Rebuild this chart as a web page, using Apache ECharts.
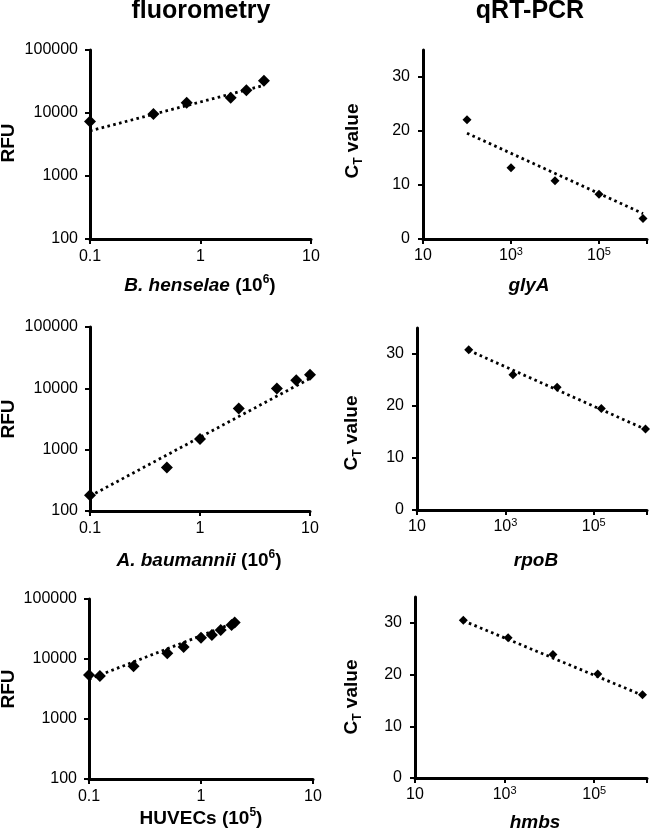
<!DOCTYPE html>
<html><head><meta charset="utf-8">
<script src="https://cdn.jsdelivr.net/npm/echarts@6/dist/echarts.min.js"></script>
<style>html,body{margin:0;padding:0;background:#fff}#c{width:650px;height:838px}</style>
</head><body><div id="c"></div>
<script>
// ---------- data ----------
const henselaeX = [0.1, 0.375, 0.75, 1.875, 2.6, 3.75];
const henselaeY = [7300, 9600, 14500, 17500, 23000, 32500];
const henselaeTrendX = [0.1, 3.75];
const henselaeTrendY = [5200, 27500];

const baumanniiX = [0.1, 0.5, 1, 2.25, 5, 7.5, 10];
const baumanniiY = [180, 510, 1490, 4700, 9900, 13500, 16700];
const baumanniiTrendX = [0.1, 10];
const baumanniiTrendY = [175, 14500];

const huvecX = [0.1, 0.125, 0.25, 0.5, 0.7, 1, 1.25, 1.5, 1.875, 2];
const huvecY = [5400, 5200, 7600, 12500, 15800, 22500, 25000, 30500, 37000, 40500];
const huvecTrendX = [0.1, 2];
const huvecTrendY = [4600, 40500];

const glyAX = [100, 1000, 10000, 100000, 1000000];
const glyAY = [22.1, 13.2, 10.8, 8.3, 3.8];
const glyATrendX = [100, 1000000];
const glyATrendY = [19.6, 4.7];

const rpoBX = [148, 1480, 14800, 148000, 1480000];
const rpoBY = [30.8, 26.0, 23.6, 19.5, 15.6];
const rpoBTrendX = [148, 1480000];
const rpoBTrendY = [30.7, 15.5];

const hmbsX = [120, 1200, 12000, 120000, 1200000];
const hmbsY = [30.5, 27.1, 23.9, 20.1, 16.1];
const hmbsTrendX = [120, 1200000];
const hmbsTrendY = [30.4, 16.0];

// tick labels
const ctYTicks = [0, 10, 20, 30];
const copyTickValues = [10, 1000, 100000];
const copyTickBase = ['10', '10', '10'];
const copyTickExp = ['', '3', '5'];

// ---------- chart ----------
const FF = '"Liberation Sans", Arial, sans-serif';
const pairs = (xs, ys) => xs.map((x, i) => [x, ys[i]]);

const panels = [
  {grid: {left: 90, top: 50, width: 221, height: 189}, kind: 'fluo', x: henselaeX, y: henselaeY, tx: henselaeTrendX, ty: henselaeTrendY},
  {grid: {left: 423, top: 50, width: 224, height: 189}, kind: 'ct', xmax: 1233000, x: glyAX, y: glyAY, tx: glyATrendX, ty: glyATrendY},
  {grid: {left: 90, top: 327, width: 220, height: 184}, kind: 'fluo', x: baumanniiX, y: baumanniiY, tx: baumanniiTrendX, ty: baumanniiTrendY},
  {grid: {left: 417, top: 328, width: 230, height: 182}, kind: 'ct', xmax: 1600000, x: rpoBX, y: rpoBY, tx: rpoBTrendX, ty: rpoBTrendY},
  {grid: {left: 89, top: 599, width: 224, height: 180}, kind: 'fluo', x: huvecX, y: huvecY, tx: huvecTrendX, ty: huvecTrendY},
  {grid: {left: 415, top: 597, width: 232, height: 181}, kind: 'ct', xmax: 1510000, x: hmbsX, y: hmbsY, tx: hmbsTrendX, ty: hmbsTrendY}
];

const axisLine = {show: true, onZero: false, lineStyle: {color: '#000', width: 3}};
const axisTick = {show: true, length: 5, lineStyle: {color: '#000', width: 2}};

const grids = [], xAxes = [], yAxes = [], series = [];
panels.forEach((p, i) => {
  grids.push(Object.assign({containLabel: false}, p.grid));
  if (p.kind === 'fluo') {
    xAxes.push({type: 'log', logBase: 10, gridIndex: i, min: 0.1, max: 10,
      axisLine, axisTick, splitLine: {show: false},
      axisLabel: {margin: 10, color: '#000', fontSize: 16, fontFamily: FF, formatter: v => String(v)}});
    yAxes.push({type: 'log', logBase: 10, gridIndex: i, min: 100, max: 100000,
      axisLine, axisTick, splitLine: {show: false},
      axisLabel: {margin: 12, color: '#000', fontSize: 16, fontFamily: FF, formatter: v => String(v)}});
  } else {
    xAxes.push({type: 'log', logBase: 10, gridIndex: i, min: 10, max: p.xmax,
      axisLine, splitLine: {show: false},
      axisTick: Object.assign({customValues: copyTickValues.concat([p.xmax * 0.999])}, axisTick),
      axisLabel: {margin: 7, color: '#000', fontFamily: FF,
        formatter: v => {
          const k = copyTickValues.findIndex(t => Math.abs(t - v) / t < 1e-6);
          if (k < 0) return '';
          return '{n|' + copyTickBase[k] + '}' + (copyTickExp[k] ? '{p|' + copyTickExp[k] + '}' : '');
        },
        rich: {
          n: {fontSize: 16, fontFamily: FF, color: '#000', lineHeight: 20},
          p: {fontSize: 11, fontFamily: FF, color: '#000', verticalAlign: 'top', lineHeight: 10}
        }}});
    yAxes.push({type: 'value', gridIndex: i, min: 0, max: 35, interval: 10,
      axisLine, splitLine: {show: false},
      axisTick: Object.assign({customValues: ctYTicks}, axisTick),
      axisLabel: {customValues: ctYTicks, margin: 13, color: '#000', fontSize: 16, fontFamily: FF}});
  }
  series.push({type: 'line', xAxisIndex: i, yAxisIndex: i, data: pairs(p.tx, p.ty),
    symbol: 'none', showSymbol: false, silent: true, z: 2,
    lineStyle: {color: '#000', width: 2.8, type: [2.6, 3.4]}});
  series.push({type: 'scatter', xAxisIndex: i, yAxisIndex: i, data: pairs(p.x, p.y),
    symbol: 'diamond', symbolSize: p.kind === 'fluo' ? 12 : 9, z: 3,
    itemStyle: {color: '#000', opacity: 1}});
});

const bold = (s) => ({fontSize: s, fontWeight: 'bold', fontFamily: FF, fill: '#000'});
const nameRich = {
  i: {fontSize: 19, fontWeight: 'bold', fontStyle: 'italic', fontFamily: FF, fill: '#000', lineHeight: 24},
  b: {fontSize: 19, fontWeight: 'bold', fontFamily: FF, fill: '#000', lineHeight: 24},
  s: {fontSize: 12, fontWeight: 'bold', fontFamily: FF, fill: '#000', verticalAlign: 'top', lineHeight: 12},
  c: {fontSize: 19, fontWeight: 'bold', fontFamily: FF, fill: '#000', lineHeight: 24},
  t: {fontSize: 12, fontWeight: 'bold', fontFamily: FF, fill: '#000', verticalAlign: 'bottom', lineHeight: 12}
};
const txt = (x, y, text, extra) => ({type: 'text', x, y, rotation: extra && extra.rot || 0, silent: true,
  style: Object.assign({text, align: 'center', verticalAlign: 'middle', rich: nameRich}, bold(extra && extra.size || 19))});

const graphic = [
  txt(201, 11, 'fluorometry', {size: 25}),
  txt(530, 11, 'qRT-PCR', {size: 25}),
  txt(200, 286, '{i|B. henselae }{b|(10}{s|6}{b|)}'),
  txt(529, 286, '{i|glyA}'),
  txt(199, 561, '{i|A. baumannii }{b|(10}{s|6}{b|)}'),
  txt(536, 561, '{i|rpoB}'),
  txt(201, 819, '{b|HUVECs (10}{s|5}{b|)}'),
  txt(535, 823, '{i|hmbs}'),
  txt(8.5, 143, 'RFU', {rot: Math.PI / 2, size: 19}),
  txt(8.5, 419, 'RFU', {rot: Math.PI / 2, size: 19}),
  txt(8.5, 689, 'RFU', {rot: Math.PI / 2, size: 19}),
  txt(353, 141, '{c|C}{t|T}{c| value}', {rot: Math.PI / 2, size: 19}),
  txt(352, 433, '{c|C}{t|T}{c| value}', {rot: Math.PI / 2, size: 19}),
  txt(352, 697, '{c|C}{t|T}{c| value}', {rot: Math.PI / 2, size: 19})
];

const chart = echarts.init(document.getElementById('c'), null, {renderer: 'canvas'});
chart.setOption({
  animation: false,
  backgroundColor: '#fff',
  grid: grids, xAxis: xAxes, yAxis: yAxes, series, graphic
});
</script>
</body></html>
